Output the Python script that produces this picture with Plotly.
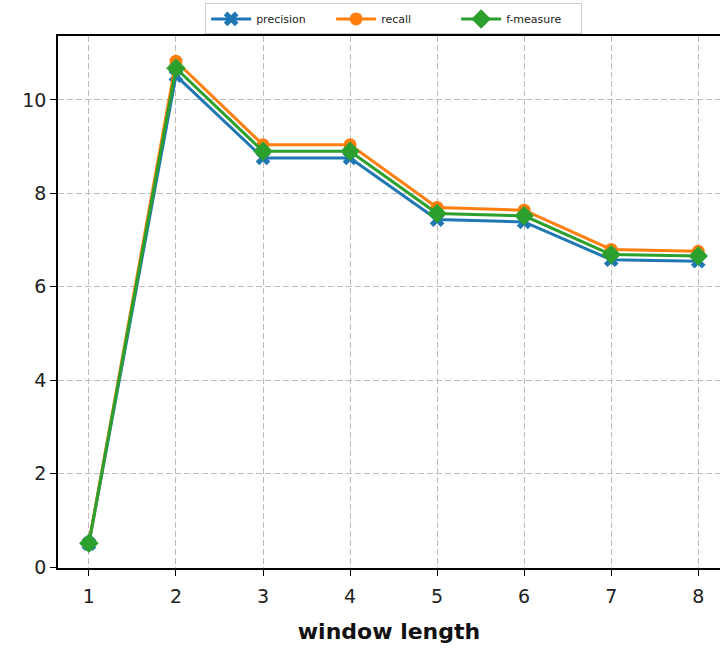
import plotly.graph_objects as go

window_length = [1, 2, 3, 4, 5, 6, 7, 8]
precision = [0.50, 10.52, 8.76, 8.76, 7.44, 7.39, 6.58, 6.55]
recall = [0.52, 10.83, 9.04, 9.04, 7.70, 7.64, 6.80, 6.76]
f_measure = [0.51, 10.68, 8.90, 8.90, 7.57, 7.52, 6.69, 6.66]

y_ticks = [0, 2, 4, 6, 8, 10]

series = [
    ("precision", precision, "#1f77b4", "x", 13),
    ("recall", recall, "#ff7f0e", "circle", 13),
    ("f-measure", f_measure, "#2ca02c", "diamond", 15),
]

fig = go.Figure()
for name, vals, color, sym, size in series:
    fig.add_trace(go.Scatter(
        x=window_length, y=vals, name=name, mode="lines+markers",
        line=dict(color=color, width=3),
        marker=dict(symbol=sym, size=size, color=color, line=dict(width=0)),
    ))

axis_common = dict(
    showgrid=True, gridcolor="#bdbdbd", griddash="6px,3px", gridwidth=1,
    showline=True, linecolor="black", linewidth=1.5,
    ticks="outside", ticklen=6, tickcolor="black", zeroline=False,
    tickfont=dict(family="DejaVu Sans", size=19, color="#222"),
)

fig.update_layout(
    width=720, height=651,
    margin=dict(l=58, r=0, t=36, b=83),
    plot_bgcolor="white", paper_bgcolor="white",
    showlegend=True,
    legend=dict(
        orientation="h", x=0.507, xanchor="center", y=1.003, yanchor="bottom",
        bordercolor="#cccccc", borderwidth=1,
        font=dict(family="DejaVu Sans", size=11, color="#222"),
        itemwidth=40, entrywidth=70, tracegroupgap=0,
    ),
    xaxis=dict(
        range=[0.645, 8.25], tickvals=window_length, mirror=True,
        ticklabelstandoff=4,
        title=dict(text="<b>window length</b>", standoff=18,
                   font=dict(family="DejaVu Sans", size=22, color="#111")),
        **axis_common,
    ),
    yaxis=dict(range=[-0.02, 11.37], tickvals=y_ticks, mirror=False,
               **axis_common),
)

fig.write_html("out.html")
